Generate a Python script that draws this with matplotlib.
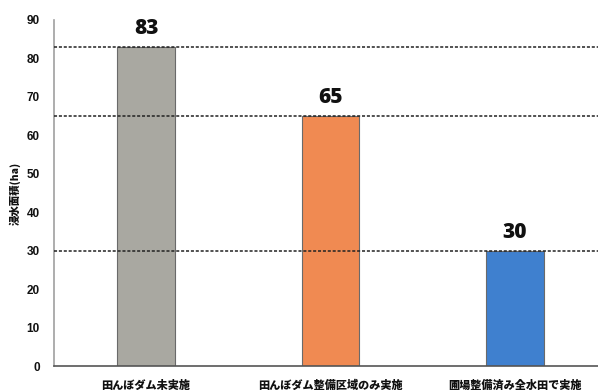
import matplotlib
matplotlib.use("Agg")
import matplotlib.pyplot as plt

plt.rcParams['font.family'] = ['Noto Sans CJK JP', 'DejaVu Sans']

categories = ['田んぼダム未実施', '田んぼダム整備区域のみ実施', '圃場整備済み全水田で実施']
values = [83, 65, 30]
colors = ['#a9a8a1', '#f08a52', '#3f80cf']
ylabel = '浸水面積(ha)'
yticks = [0, 10, 20, 30, 40, 50, 60, 70, 80, 90]

fig = plt.figure(figsize=(5.98, 3.90), dpi=100)
ax = fig.add_axes([0.090, 0.0615, 0.91, 0.8875])

x = list(range(len(categories)))
ax.bar(x, values, width=0.31, color=colors, edgecolor='#6a6a6a', linewidth=0.8, zorder=2)

# reference lines at each bar value
for v in values:
    ax.axhline(v, color='#222222', linestyle=(0, (2, 1.2)), linewidth=1.1, zorder=3)

for xi, v in zip(x, values):
    ax.text(xi, v + 2.0, str(v), ha='center', va='bottom', fontsize=15,
            fontweight='heavy', family=['Open Sans', 'DejaVu Sans'], color='#111111')

ax.set_xlim(-0.5, 2.45)
ax.set_ylim(0, 90)
ax.set_yticks(yticks)
ax.set_yticklabels([str(t) for t in yticks], fontsize=8.5, fontweight='bold',
                   family=['Liberation Sans', 'DejaVu Sans'], color='#111111')
ax.set_xticks(x)
ax.set_xticklabels(categories, fontsize=8, fontweight='heavy', color='#111111')
ax.tick_params(axis='y', length=0, pad=10)
ax.tick_params(axis='x', length=0, pad=9)
ax.set_ylabel(ylabel, fontsize=7.5, fontweight='heavy', labelpad=4, color='#111111')

ax.spines['top'].set_visible(False)
ax.spines['right'].set_visible(False)
ax.spines['left'].set_color('#a0a0a0')
ax.spines['left'].set_linewidth(1.2)
ax.spines['bottom'].set_color('#555555')
ax.spines['bottom'].set_linewidth(1.2)

fig.savefig('out.png', dpi=100)
